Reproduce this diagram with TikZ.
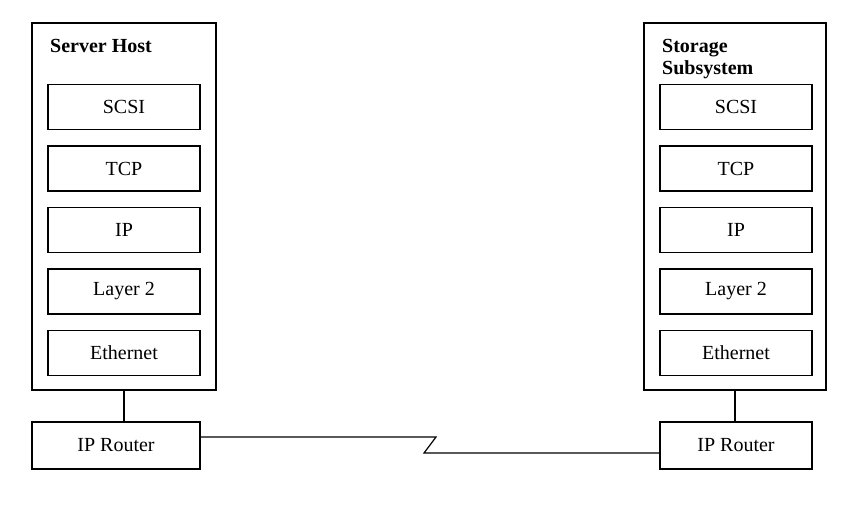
\documentclass[tikz,border=0pt]{standalone}
\usepackage{fontspec}
\setmainfont{Liberation Serif}
\usetikzlibrary{positioning}
\newcommand{\boxfont}{\fontsize{20}{22}\selectfont}
\tikzset{
    common/.style={draw, rectangle, line width=1.2pt, inner sep=0pt},
    host/.style={common, minimum height=367pt},
    layer/.style={common, minimum width=152pt, minimum height=45pt},
    router/.style={common, minimum height=47pt},
    title/.style={anchor=north west, font=\boxfont\bfseries, align=left, inner sep=0pt},
    link/.style={line width=1.2pt}
}

\begin{document}
\begin{tikzpicture}[x=1pt, y=-1pt, font=\boxfont]
      \useasboundingbox (0,0) rectangle (862,504);

      % server host
      \node[host, minimum width=184pt] (s-host) at (124,206.5) {};
      \node[title] (s-title) at (50,39) {Server Host};
      \path
          (124,107) node[layer] (s-scsi) {SCSI}
          +(0,61.5) node[layer] (s-tcp) {TCP}
          +(0,123) node[layer] (s-ip) {IP}
          +(0,184.5) node[layer] (s-l2) {Layer 2}
          +(0,246) node[layer] (s-eth) {Ethernet};
      \node[router, minimum width=168pt] (s-router) at (116,445.5) {IP Router};

      % storage subsystem
      \node[host, minimum width=182pt] (t-host) at (735,206.5) {};
      \node[title] (t-title) at (662,39) {Storage\\Subsystem};
      \path
          (736,107) node[layer] (t-scsi) {SCSI}
          +(0,61.5) node[layer] (t-tcp) {TCP}
          +(0,123) node[layer] (t-ip) {IP}
          +(0,184.5) node[layer] (t-l2) {Layer 2}
          +(0,246) node[layer] (t-eth) {Ethernet};
      \node[router, minimum width=152pt] (t-router) at (736,445.5) {IP Router};

      \draw[link] (s-host.south) -- (s-host.south |- s-router.north);
      \draw[link] (t-host.south) -- (t-host.south |- t-router.north);

      \coordinate (zig-a) at (436,437);
      \coordinate (zig-b) at (424,453);
      \draw[link] (s-router.east |- zig-a) -- (zig-a) -- (zig-b) -- (zig-b -| t-router.west);
    \end{tikzpicture}
\end{document}
